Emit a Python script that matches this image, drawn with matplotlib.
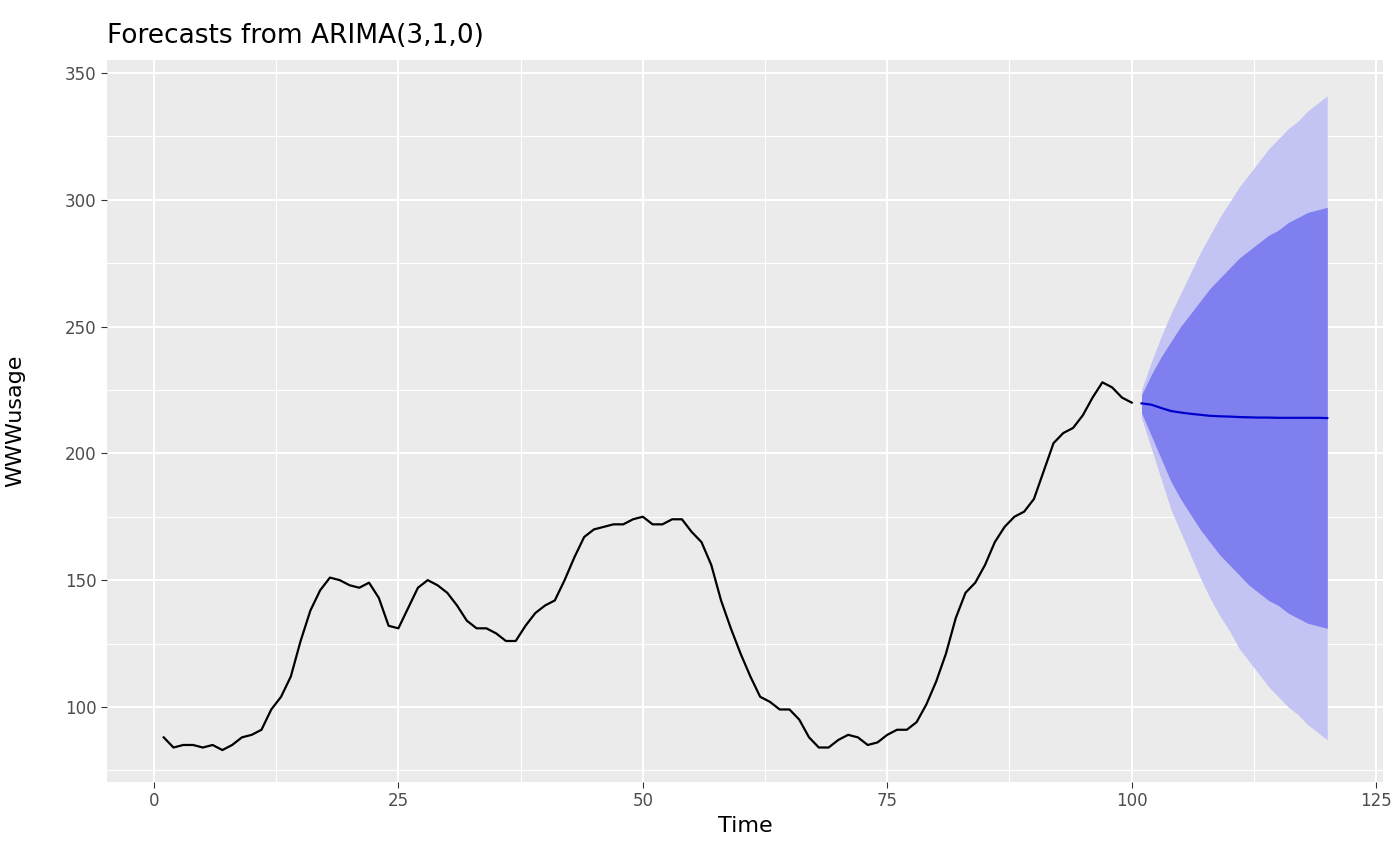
import numpy as np
import matplotlib.pyplot as plt

usage = [88, 84, 85, 85, 84, 85, 83, 85, 88, 89, 91, 99, 104, 112, 126, 138, 146, 151, 150, 148,
         147, 149, 143, 132, 131, 139, 147, 150, 148, 145, 140, 134, 131, 131, 129, 126, 126, 132, 137, 140,
         142, 150, 159, 167, 170, 171, 172, 172, 174, 175, 172, 172, 174, 174, 169, 165, 156, 142, 131, 121,
         112, 104, 102, 99, 99, 95, 88, 84, 84, 87, 89, 88, 85, 86, 89, 91, 91, 94, 101, 110,
         121, 135, 145, 149, 156, 165, 171, 175, 177, 182, 193, 204, 208, 210, 215, 222, 228, 226, 222, 220]
t = np.arange(1, len(usage) + 1)

fc_t = np.arange(101, 121)
fc_mean = [219.7, 219.2, 217.9, 216.7, 216.1, 215.6, 215.2, 214.8, 214.6, 214.5,
           214.3, 214.2, 214.1, 214.1, 214.0, 214.0, 214.0, 214.0, 214.0, 213.9]
hi95 = [225, 236, 246, 255, 263, 271, 279, 286, 293, 299, 305, 310, 315, 320, 324, 328, 331, 335, 338, 341]
lo95 = [214, 202, 190, 178, 169, 160, 151, 143, 136, 130, 123, 118, 113, 108, 104, 100, 97, 93, 90, 87]
hi80 = [223, 231, 238, 244, 250, 255, 260, 265, 269, 273, 277, 280, 283, 286, 288, 291, 293, 295, 296, 297]
lo80 = [216, 207, 198, 189, 182, 176, 170, 165, 160, 156, 152, 148, 145, 142, 140, 137, 135, 133, 132, 131]

fig = plt.figure(figsize=(14, 8.66), dpi=100)
ax = fig.add_axes([107 / 1400, 1 - 782 / 866, (1383 - 107) / 1400, (782 - 60) / 866])
ax.set_facecolor('#EBEBEB')
for s in ax.spines.values():
    s.set_visible(False)

ax.fill_between(fc_t, lo95, hi95, color='#C4C4F4', lw=0, zorder=2)
ax.fill_between(fc_t, lo80, hi80, color='#7F7FEF', lw=0, zorder=3)
ax.plot(fc_t, fc_mean, color='#0000CC', lw=1.6, zorder=4)
ax.plot(t, usage, color='black', lw=1.6, zorder=4)

ax.set_xlim(-4.8, 125.7)
ax.set_ylim(70.4, 355.1)
ax.set_xticks([0, 25, 50, 75, 100, 125])
ax.set_yticks([100, 150, 200, 250, 300, 350])
ax.set_xticks([12.5, 37.5, 62.5, 87.5, 112.5], minor=True)
ax.set_yticks([75, 125, 175, 225, 275, 325], minor=True)
ax.grid(which='major', color='white', lw=1.5, zorder=1)
ax.grid(which='minor', color='white', lw=0.8, zorder=1)
ax.set_axisbelow(True)
ax.tick_params(which='major', length=4, color='#333333', labelsize=12, labelcolor='#4D4D4D')
ax.tick_params(which='minor', length=0)

ax.set_xlabel('Time', fontsize=16)
ax.set_ylabel('WWWusage', fontsize=16)
ax.yaxis.set_label_coords(-82 / 1276, 0.5)
ax.set_title('Forecasts from ARIMA(3,1,0)', fontsize=19, loc='left', pad=12)

fig.savefig('out.png')
